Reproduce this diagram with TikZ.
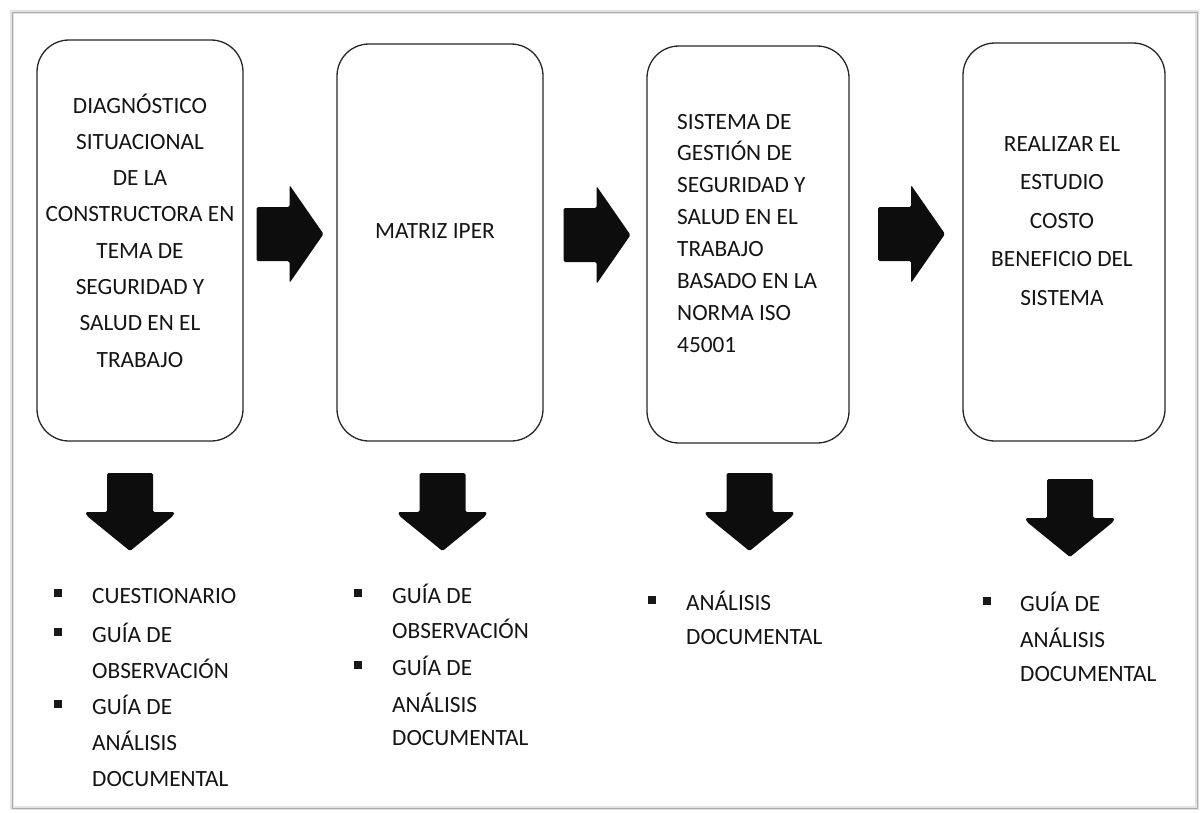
\documentclass[tikz,border=0pt]{standalone}
\usepackage{fontspec}
\setmainfont{Carlito}
\begin{document}
\begin{tikzpicture}[x=1pt, y=-1pt,
  stage/.style={draw=black!85, line width=1.3pt, rounded corners=32pt, inner sep=0pt},
  txt/.style={font=\fontsize{23.3}{28}\selectfont, text=black!92, inner sep=0pt, anchor=base},
  itm/.style={txt, anchor=base west},
  bul/.style={fill=black!90, minimum size=8pt, inner sep=0pt, anchor=center},
  rarrow/.pic={\fill[black!95, rounded corners=1.5pt]
      (-33,-27) -- (0,-27) -- (0,-49) -- (34,0) -- (0,49) -- (0,27) -- (-33,27) -- cycle;},
  darrow/.pic={\fill[black!95, rounded corners=1.5pt]
      (-23,0) -- (23,0) -- (23,39) -- (44.5,39) -- (43,43) -- (0,78) -- (-43,43) -- (-44.5,39) -- (-23,39) -- cycle;}
]
\useasboundingbox (0,0) rectangle (1201,812);
% page frame with a soft shadow
\draw[gray!22, line width=3.5pt] (12,12) rectangle (1197,808);
\draw[gray!65, line width=0.9pt] (12,12) rectangle (1197,808);

% the four stages
\node[stage, minimum width=206pt, minimum height=401pt] (b1) at (140,240.5) {};
\node[stage, minimum width=206pt, minimum height=397pt] (b2) at (440,242.5) {};
\node[stage, minimum width=202pt, minimum height=397pt] (b3) at (748,244.5) {};
\node[stage, minimum width=202pt, minimum height=398pt] (b4) at (1064,242) {};

% stage texts
\foreach \t [count=\i] in {DIAGNÓSTICO, SITUACIONAL, DE LA, CONSTRUCTORA EN, TEMA DE, SEGURIDAD Y, SALUD EN EL, TRABAJO}
  \node[txt] (b1l\i) at (140,{113+36.3*(\i-1)}) {\t};
\node[txt] (b2l1) at (435,238) {MATRIZ IPER};
\foreach \t [count=\i] in {SISTEMA DE, GESTIÓN DE, SEGURIDAD Y, SALUD EN EL, TRABAJO, BASADO EN LA, NORMA ISO, 45001}
  \node[itm] (b3l\i) at (677,{129+31.9*(\i-1)}) {\t};
\foreach \t [count=\i] in {REALIZAR EL, ESTUDIO, COSTO, BENEFICIO DEL, SISTEMA}
  \node[txt] (b4l\i) at (1062,{151+38.5*(\i-1)}) {\t};

% block arrows between stages
\pic at (289.5,234) {rarrow};
\pic at (596.5,235) {rarrow};
\pic at (911,234) {rarrow};

% block arrows down to the instruments
\pic at (130,473) {darrow};
\pic at (442.5,473) {darrow};
\pic at (749.5,473) {darrow};
\pic at (1070,479) {darrow};

% instruments of each stage
\foreach \t/\y [count=\i] in {CUESTIONARIO/603, GUÍA DE/642, OBSERVACIÓN/678, GUÍA DE/714, ANÁLISIS/750, DOCUMENTAL/786}
  \node[itm] (l1l\i) at (92,\y) {\t};
\foreach \y [count=\i] in {603,642,714}
  \node[bul] (l1b\i) at (57.5,\y-10) {};

\foreach \t/\y [count=\i] in {GUÍA DE/603, OBSERVACIÓN/638, GUÍA DE/675, ANÁLISIS/712, DOCUMENTAL/745}
  \node[itm] (l2l\i) at (392,\y) {\t};
\foreach \y [count=\i] in {603,675}
  \node[bul] (l2b\i) at (358,\y-10) {};

\foreach \t/\y [count=\i] in {ANÁLISIS/610, DOCUMENTAL/644}
  \node[itm] (l3l\i) at (686,\y) {\t};
\node[bul] (l3b1) at (652,600) {};

\foreach \t/\y [count=\i] in {GUÍA DE/611, ANÁLISIS/647, DOCUMENTAL/681}
  \node[itm] (l4l\i) at (1020,\y) {\t};
\node[bul] (l4b1) at (987,601) {};
\end{tikzpicture}
\end{document}
